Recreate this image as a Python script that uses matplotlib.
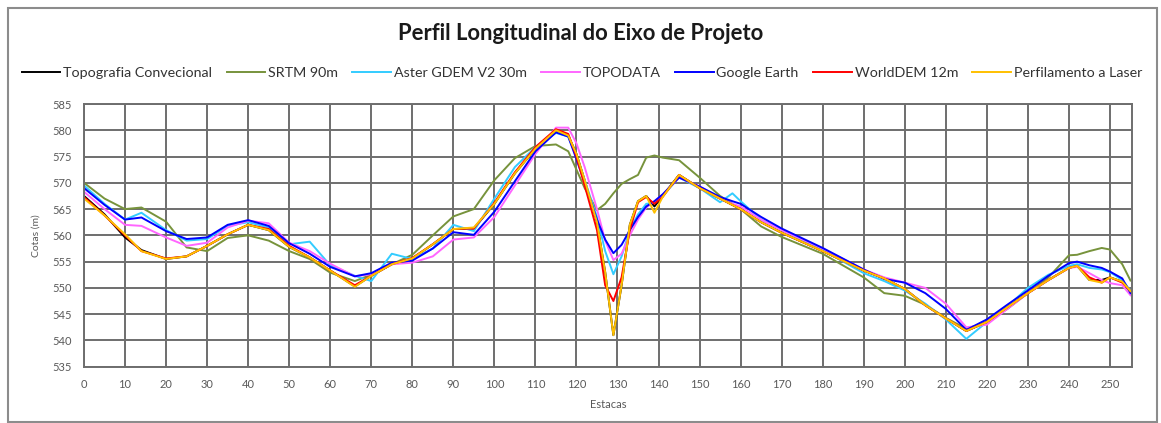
import matplotlib
matplotlib.use("Agg")
import matplotlib.pyplot as plt
from matplotlib.patches import Rectangle

plt.rcParams['font.family'] = ['Lato', 'DejaVu Sans']

estacas = [0, 5, 10, 14, 20, 25, 30, 35, 40, 45, 50, 55, 60, 66, 70, 75, 80, 85, 90, 95,
           100, 105, 110, 115, 118, 120, 122, 125, 127, 129, 131, 133, 135, 137, 139, 141,
           145, 150, 155, 158, 160, 165, 170, 180, 190, 195, 200, 205, 210, 215, 220, 225,
           230, 235, 240, 242, 245, 248, 250, 253, 255]

topografia = [567.5, 564.0, 559.6, 557.2, 555.5, 556.0, 558.0, 560.2, 562.0, 561.0, 557.8, 555.8, 553.3, 550.3, 552.3, 554.5, 555.6, 558.3, 561.2, 561.3,
              566.0, 571.8, 576.5, 580.0, 579.0, 575.5, 570.5, 562.5, 553.0, 541.0, 550.5, 562.0, 566.5, 567.5, 565.5, 567.5,
              571.5, 569.0, 567.0, 565.8, 565.0, 562.5, 560.5, 557.0, 553.3, 551.8, 549.8, 546.7, 544.2, 541.8, 543.5, 546.3,
              549.0, 551.5, 553.8, 554.2, 551.5, 551.5, 552.0, 551.2, 549.4]

srtm = [570.0, 567.0, 565.0, 565.3, 562.6, 557.7, 557.0, 559.5, 560.0, 559.0, 557.0, 555.5, 552.9, 551.3, 552.5, 554.5, 556.3, 560.0, 563.6, 565.0,
        570.5, 574.7, 577.0, 577.3, 576.0, 572.5, 569.0, 564.8, 566.0, 568.0, 569.8, 570.7, 571.5, 574.8, 575.2, 574.8,
        574.3, 571.0, 567.5, 566.0, 565.0, 561.7, 559.7, 556.5, 552.0, 549.0, 548.5, 546.8, 544.3, 542.2, 543.5, 546.0,
        549.0, 552.0, 556.2, 556.3, 557.0, 557.6, 557.3, 554.5, 551.4]

aster = [569.5, 566.0, 563.0, 564.3, 561.0, 559.0, 559.3, 561.8, 562.5, 561.5, 558.3, 558.8, 554.3, 552.3, 551.3, 556.5, 555.5, 557.5, 562.0, 560.8,
         567.0, 573.0, 576.8, 579.5, 578.8, 575.0, 570.5, 563.5, 557.0, 552.6, 556.0, 561.0, 564.0, 566.0, 566.2, 567.5,
         571.0, 569.0, 566.3, 568.0, 566.5, 563.0, 561.0, 557.2, 552.8, 551.3, 549.5, 547.0, 544.0, 540.3, 543.5, 546.5,
         550.0, 552.5, 554.2, 554.5, 553.8, 553.5, 553.0, 551.5, 549.5]

topodata = [568.3, 565.0, 562.0, 561.8, 559.6, 558.0, 558.6, 561.5, 562.8, 562.3, 558.6, 557.0, 554.6, 552.2, 552.6, 554.5, 554.8, 556.0, 559.2, 559.6,
            563.5, 569.5, 575.5, 580.5, 580.5, 577.5, 573.0, 565.0, 559.0, 555.3, 556.5, 560.0, 563.0, 565.3, 566.5, 567.7,
            571.0, 569.3, 567.0, 566.0, 565.5, 563.0, 561.0, 557.5, 553.5, 552.0, 551.0, 550.0, 547.0, 542.5, 543.0, 546.0,
            549.0, 551.5, 553.8, 554.0, 552.8, 551.5, 550.9, 550.5, 548.6]

google = [569.0, 565.8, 563.0, 563.4, 560.8, 559.3, 559.6, 562.0, 562.9, 561.8, 558.5, 556.5, 554.0, 552.2, 552.8, 554.8, 555.2, 557.5, 560.6, 560.1,
          564.5, 570.3, 576.0, 579.6, 578.8, 574.5, 570.0, 563.0, 559.2, 556.6, 558.2, 561.0, 563.5, 565.5, 566.5, 567.8,
          571.0, 569.3, 567.3, 566.5, 566.0, 563.5, 561.3, 557.6, 553.5, 551.7, 551.0, 549.0, 546.0, 542.0, 544.0, 546.8,
          549.5, 552.3, 554.7, 555.0, 554.3, 553.8, 553.1, 551.8, 549.0]

worlddem = [567.3, 563.8, 560.0, 557.0, 555.6, 556.0, 558.0, 560.2, 562.0, 561.2, 558.0, 555.8, 553.3, 550.5, 552.3, 554.5, 555.7, 558.3, 561.2, 561.3,
            566.2, 572.0, 576.8, 580.2, 579.3, 575.0, 569.5, 561.0, 550.5, 547.5, 552.0, 561.0, 566.3, 567.3, 566.0, 567.3,
            571.5, 569.0, 567.0, 565.8, 565.0, 562.5, 560.5, 557.0, 553.3, 551.8, 549.8, 546.7, 544.2, 541.8, 543.5, 546.3,
            549.0, 551.5, 553.8, 554.2, 552.0, 551.0, 552.0, 551.0, 549.4]

laser = [567.0, 563.8, 560.2, 557.0, 555.5, 556.0, 558.0, 560.2, 562.0, 561.0, 557.8, 555.8, 553.3, 550.2, 552.3, 554.5, 555.6, 558.3, 561.2, 561.5,
         566.0, 571.8, 576.5, 580.0, 579.0, 575.5, 570.5, 562.5, 553.0, 541.0, 550.5, 562.0, 566.5, 567.5, 564.3, 567.3,
         571.5, 569.0, 567.0, 565.8, 565.0, 562.5, 560.5, 557.0, 553.3, 551.8, 549.8, 546.7, 544.2, 541.8, 543.5, 546.3,
         549.0, 551.5, 553.8, 554.2, 551.5, 551.0, 552.0, 551.2, 549.4]

series_names = ['Topografia Convecional', 'SRTM 90m', 'Aster GDEM V2 30m', 'TOPODATA',
                'Google Earth', 'WorldDEM 12m', 'Perfilamento a Laser']
series_values = [topografia, srtm, aster, topodata, google, worlddem, laser]
series_colors = ['#000000', '#77933C', '#33CCFF', '#FF66FF', '#0000FF', '#FF0000', '#FFC000']

x_ticks = list(range(0, 251, 10))
y_ticks = list(range(535, 586, 5))

W, H = 1161, 423
fig = plt.figure(figsize=(W / 100, H / 100), dpi=100)
fig.patch.set_facecolor('white')
fig.add_artist(Rectangle((8 / W, 1 / H), 1149 / W, (H - 9) / H, transform=fig.transFigure,
                         fill=False, edgecolor='#8c8c8c', lw=1.5))

ax = fig.add_axes([84 / W, 1 - 366.7 / H, (1131.7 - 84) / W, 262.7 / H])
for name, vals, col in zip(series_names, series_values, series_colors):
    ax.plot(estacas, vals, color=col, lw=1.4, label=name, solid_joinstyle='round')

ax.set_xlim(0, 255.3)
ax.set_ylim(535, 585)
ax.set_xticks(x_ticks)
ax.set_yticks(y_ticks)
ax.grid(True, color='#6e6e6e', lw=1.4)
ax.set_axisbelow(True)
for s in ax.spines.values():
    s.set_color('#6e6e6e')
    s.set_linewidth(1.4)
ax.tick_params(length=0, labelsize=8, labelcolor='#595959', pad=9)
ax.set_ylabel('Cotas (m)', fontsize=7.5, color='#595959', labelpad=8)
ax.set_xlabel('Estacas', fontsize=8, color='#595959', labelpad=6)

fig.text(0.5, 1 - 33 / H, 'Perfil Longitudinal do Eixo de Projeto', ha='center', va='center',
         fontsize=15.8, fontweight='bold', color='#1a1a1a')
leg = fig.legend(loc='center', bbox_to_anchor=(582 / W, 1 - 73 / H), ncol=7, frameon=False,
                 fontsize=10.3, handlelength=2.7, handletextpad=0.2, columnspacing=1.0,
                 borderaxespad=0)
for t in leg.get_texts():
    t.set_color('#333333')

fig.savefig('out.png', dpi=100)
